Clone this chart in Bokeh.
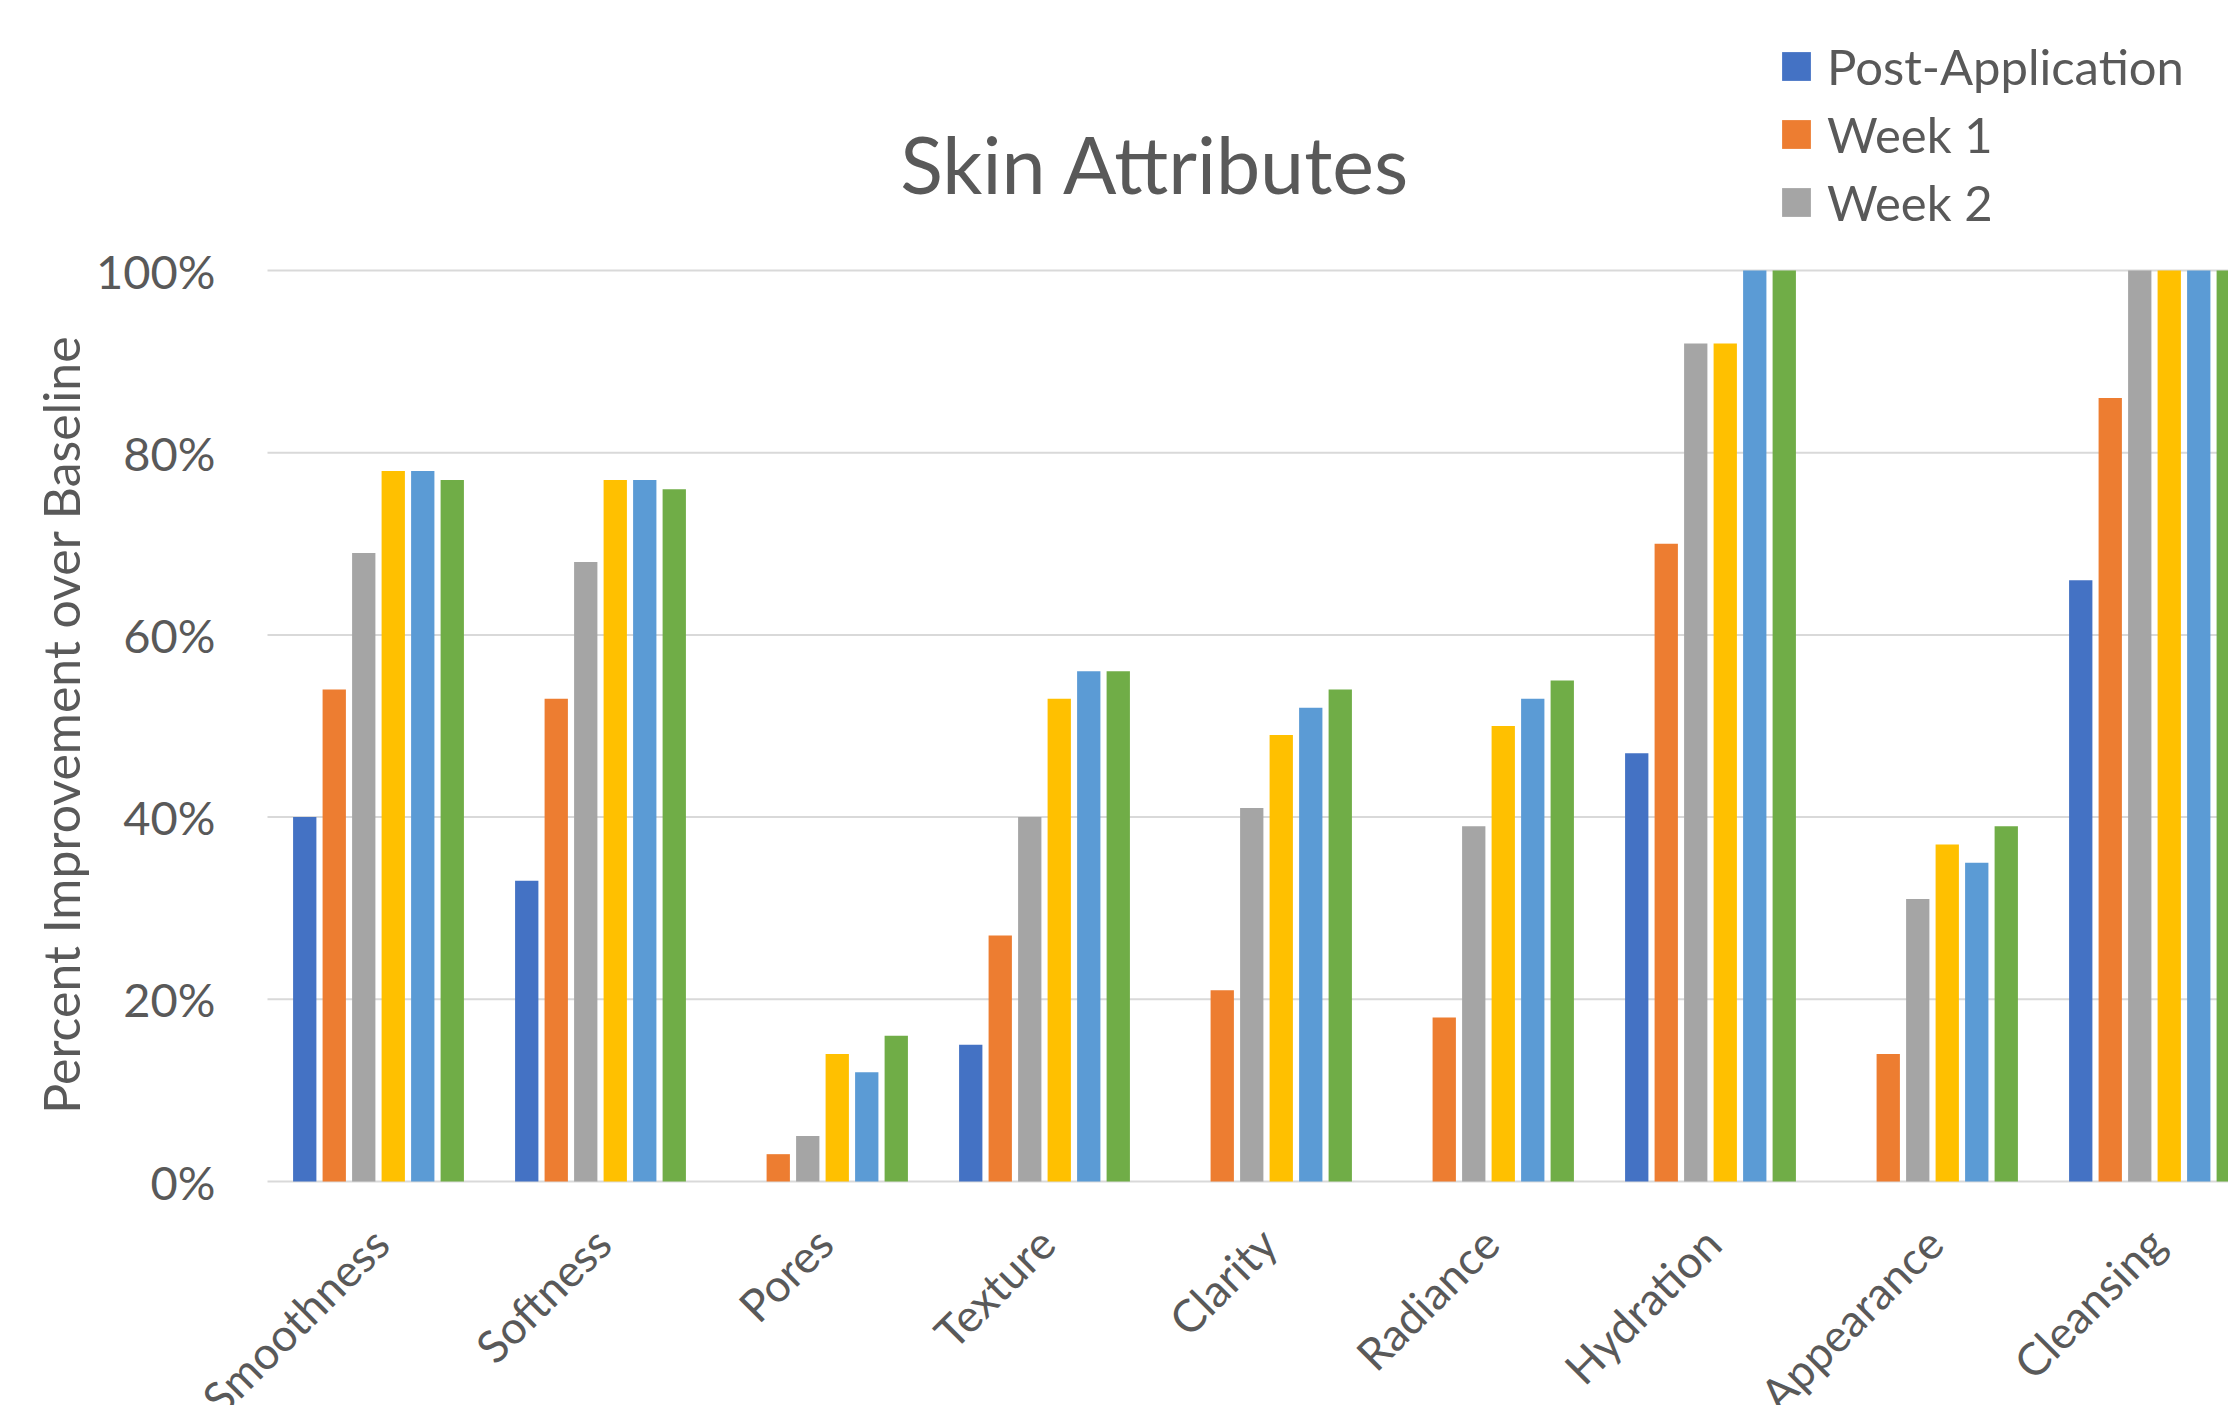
import math
from bokeh.plotting import figure
from bokeh.models import (ColumnDataSource, Range1d, Legend, LegendItem, Label, LabelSet)
from bokeh.embed import file_html
from bokeh.resources import INLINE
from bokeh.core.properties import value

# ---- data (percent improvement over baseline) ----
categories = ["Smoothness", "Softness", "Pores", "Texture", "Clarity",
              "Radiance", "Hydration", "Appearance", "Cleansing"]
post_application = [40, 33, 0, 15, 0, 0, 47, 0, 66]
week_1 = [54, 53, 3, 27, 21, 18, 70, 14, 86]
week_2 = [69, 68, 5, 40, 41, 39, 92, 31, 100]
series_4 = [78, 77, 14, 53, 49, 50, 92, 37, 100]
series_5 = [78, 77, 12, 56, 52, 53, 100, 35, 100]
series_6 = [77, 76, 16, 56, 54, 55, 100, 39, 100]
y_ticks = [0, 0.2, 0.4, 0.6, 0.8, 1.0]
y_tick_labels = ["0%", "20%", "40%", "60%", "80%", "100%"]

series = [("Post-Application", post_application, "#4472C4"),
          ("Week 1", week_1, "#ED7D31"),
          ("Week 2", week_2, "#A5A5A5"),
          ("Series 4", series_4, "#FFC000"),
          ("Series 5", series_5, "#5B9BD5"),
          ("Series 6", series_6, "#70AD47")]
legend_names = ["Post-Application", "Week 1", "Week 2"]  # only these are visible

FONT = "Lato"
TXT = "#595959"

W, H = 2228, 1405
LEFT = 267                    # plot-area left edge (px)
Y0_PX, Y100_PX = 1181, 270    # pixel rows of 0% and 100%
CAT_PX = 222.0
px_per_unit = Y0_PX - Y100_PX
x_start = -LEFT / CAT_PX
x_end = (W - LEFT) / CAT_PX
y_start = -(H - Y0_PX) / px_per_unit
y_end = 1 + Y100_PX / px_per_unit

p = figure(width=W, height=H, output_backend="svg", toolbar_location=None,
           x_range=Range1d(x_start, x_end), y_range=Range1d(y_start, y_end),
           x_axis_location=None, y_axis_location=None,
           min_border_left=0, min_border_right=0,
           min_border_top=0, min_border_bottom=0)
p.outline_line_color = None
p.background_fill_color = "white"
p.border_fill_color = "white"
p.xgrid.visible = False
p.ygrid.visible = False

# horizontal gridlines across the plot area only
n_t = len(y_ticks)
p.segment(x0=[0] * n_t, x1=[x_end] * n_t, y0=y_ticks, y1=y_ticks,
          line_color="#d9d9d9", line_width=2)

# y tick labels
tick_src = ColumnDataSource(dict(y=y_ticks, text=y_tick_labels))
p.add_layout(LabelSet(x=215, x_units="screen", y="y", text="text", source=tick_src,
                      text_align="right", text_baseline="middle",
                      text_font=value(FONT), text_font_size="47px", text_color=TXT))

# y axis title
p.add_layout(Label(x=60, y=H - 724, x_units="screen", y_units="screen",
                   text="Percent Improvement over Baseline", angle=math.pi / 2,
                   text_align="center", text_baseline="middle",
                   text_font=FONT, text_font_size="50px", text_color=TXT))

bar_w = 0.105
step = 0.1329
renderers = {}
for k, (name, vals, color) in enumerate(series):
    xs = [i + 0.5 + (k - 2.5) * step for i in range(len(categories))]
    src = ColumnDataSource(dict(x=xs, top=[v / 100 for v in vals], cat=categories))
    r = p.vbar(x="x", top="top", bottom=0, width=bar_w, source=src,
               fill_color=color, line_color=None)
    renderers[name] = r

# category labels, rotated like the reference
lab_src = ColumnDataSource(dict(x=[i + 0.5 for i in range(len(categories))], text=categories))
p.add_layout(LabelSet(x="x", y=H - 1258 + 11, y_units="screen", text="text", source=lab_src,
                      x_offset=14, angle=math.pi / 4, text_align="right",
                      text_baseline="alphabetic", text_font=value(FONT),
                      text_font_size="45px", text_color=TXT))

# chart title
p.add_layout(Label(x=1155, y=H - 194 + 31, x_units="screen", y_units="screen",
                   text="Skin Attributes", text_align="center", text_baseline="alphabetic",
                   text_font=FONT, text_font_size="79px", text_color=TXT))

legend = Legend(items=[LegendItem(label=n, renderers=[renderers[n]]) for n in legend_names],
                location=(1778, H - 236), orientation="vertical")
legend.background_fill_alpha = 0
legend.border_line_color = None
legend.padding = 0
legend.margin = 0
legend.spacing = 0
legend.glyph_width = 36
legend.glyph_height = 36
legend.label_height = 68
legend.label_standoff = 13
legend.label_text_font = FONT
legend.label_text_font_size = "49px"
legend.label_text_color = TXT
p.add_layout(legend, "center")

open("out.html", "w").write(file_html(p, INLINE))
